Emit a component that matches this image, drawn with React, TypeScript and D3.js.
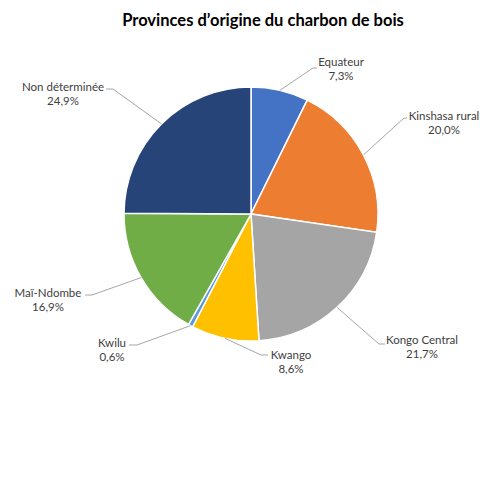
import React from "react";
import * as d3 from "d3";

const categories = ["Equateur", "Kinshasa rural", "Kongo Central", "Kwango", "Kwilu", "Maï-Ndombe", "Non déterminée"];
const values = [7.3, 20.0, 21.7, 8.6, 0.6, 16.9, 24.9];
const valueLabels = ["7,3%", "20,0%", "21,7%", "8,6%", "0,6%", "16,9%", "24,9%"];
const colors = ["#4472C4", "#ED7D31", "#A5A5A5", "#FFC000", "#5B9BD5", "#70AD47", "#264478"];
const title = "Provinces d’origine du charbon de bois";

// layout: label text center x, first baseline y, leader elbow & end points
const labelLayout = [
  { x: 341, y: 66, elbow: [313, 68], end: [317, 68] },
  { x: 444, y: 120, elbow: [404, 118], end: [407, 118] },
  { x: 422, y: 344, elbow: [379, 344], end: [385, 344] },
  { x: 291, y: 359, elbow: [261, 355], end: [268, 355] },
  { x: 112, y: 347, elbow: [137, 345], end: [129, 345] },
  { x: 48, y: 297, elbow: [92, 295], end: [85, 295] },
  { x: 63, y: 91, elbow: [113, 89], end: [106, 89] },
];

const W = 487, H = 484;
const cx = 251, cy = 214, R = 127;
const font = "Lato, 'Liberation Sans', sans-serif";

export default function App() {
  const pie = d3.pie<number>().sort(null).value((d) => d);
  const arcs = pie(values);
  const arc = d3.arc<d3.PieArcDatum<number>>().innerRadius(0).outerRadius(R);
  return (
    <svg width={W} height={H} style={{ position: "absolute", left: 0, top: 0, background: "#fff" }}>
      <text x={263} y={26} textAnchor="middle" fontFamily={font} fontWeight="bold" fontSize={16.5} fill="#000">{title}</text>
      <g transform={`translate(${cx},${cy})`}>
        {arcs.map((a, i) => (
          <path key={i} d={arc(a) || ""} fill={colors[i]} stroke="#fff" strokeWidth={1.5} />
        ))}
      </g>
      {arcs.map((a, i) => {
        const mid = (a.startAngle + a.endAngle) / 2;
        const sx = cx + R * Math.sin(mid);
        const sy = cy - R * Math.cos(mid);
        const L = labelLayout[i];
        return (
          <g key={"l" + i}>
            <polyline points={`${sx},${sy} ${L.elbow[0]},${L.elbow[1]} ${L.end[0]},${L.end[1]}`} fill="none" stroke="#A6A6A6" strokeWidth={1} />
            <text x={L.x} y={L.y} textAnchor="middle" fontFamily={font} fontSize={11.5} fill="#404040">{categories[i]}</text>
            <text x={L.x} y={L.y + 14} textAnchor="middle" fontFamily={font} fontSize={11.5} fill="#404040">{valueLabels[i]}</text>
          </g>
        );
      })}
    </svg>
  );
}
